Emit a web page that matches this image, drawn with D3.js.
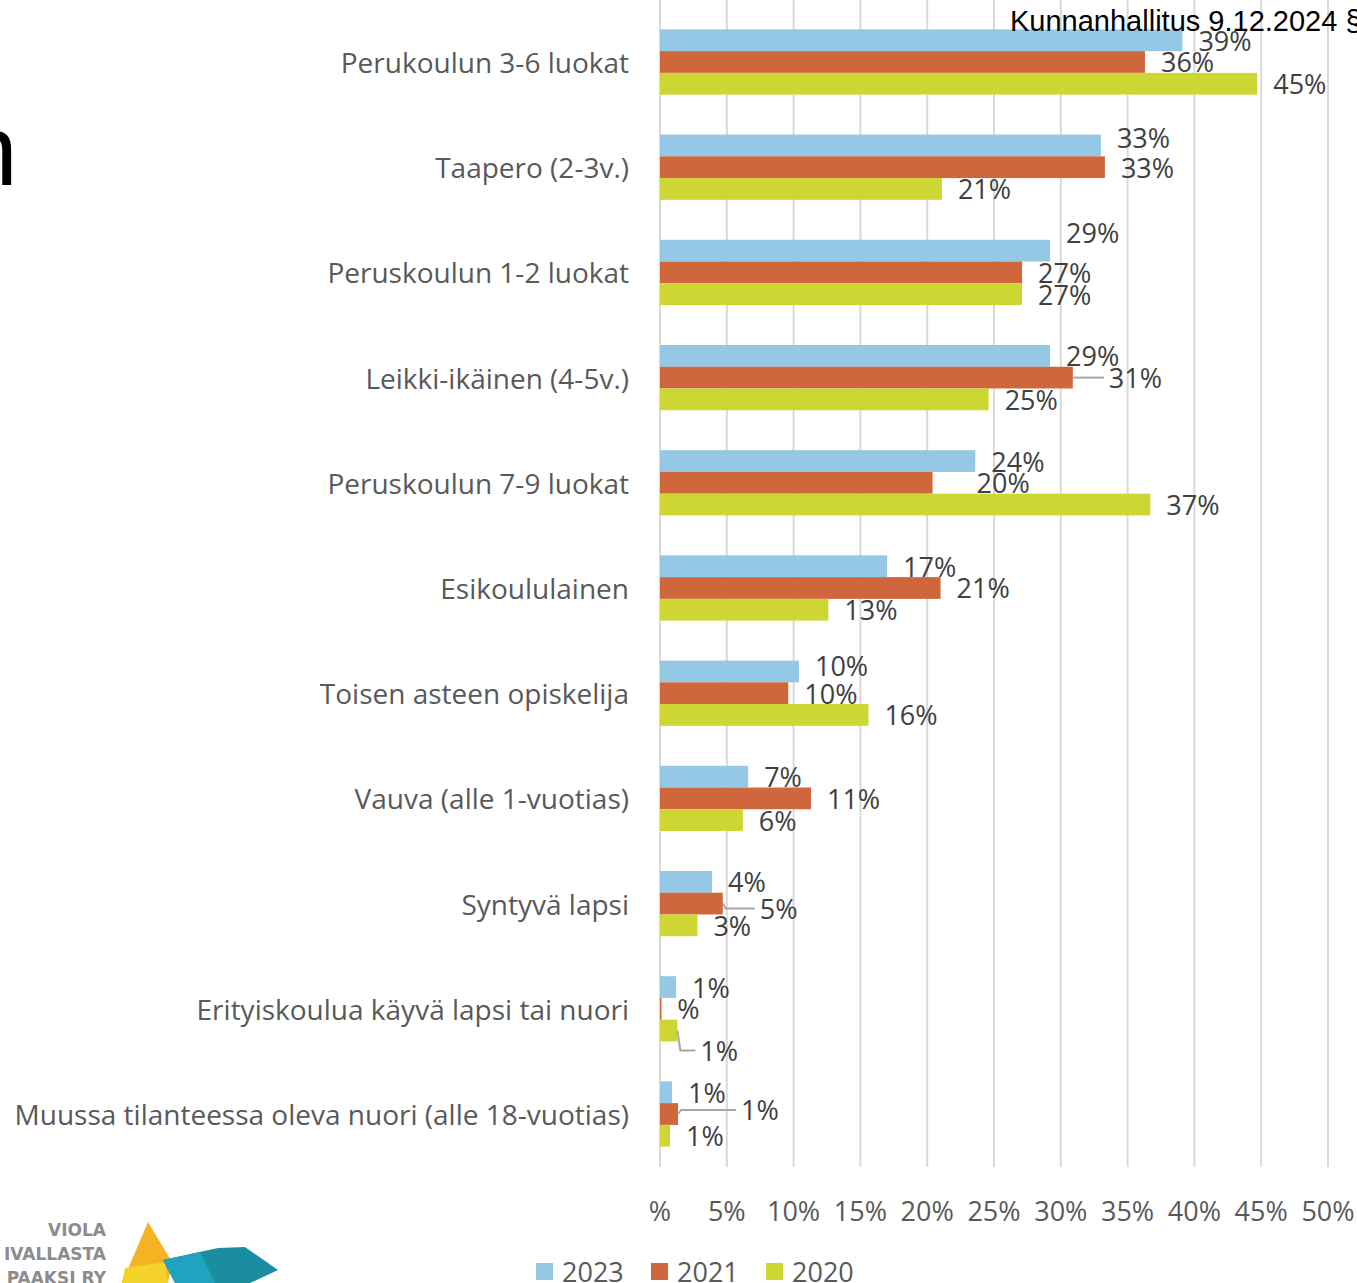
<!DOCTYPE html>
<html>
<head>
<meta charset="utf-8">
<script src="https://cdn.jsdelivr.net/npm/d3@7"></script>
<style>
  body { margin: 0; background: #fff; overflow: hidden; }
  svg { display: block; font-family: "Open Sans", Lato, sans-serif; }
</style>
</head>
<body>
<svg id="chart" width="1357" height="1283"></svg>
<script>
// categories, top to bottom
const categories = [
  "Perukoulun 3-6 luokat",
  "Taapero (2-3v.)",
  "Peruskoulun 1-2 luokat",
  "Leikki-ikäinen (4-5v.)",
  "Peruskoulun 7-9 luokat",
  "Esikoululainen",
  "Toisen asteen opiskelija",
  "Vauva (alle 1-vuotias)",
  "Syntyvä lapsi",
  "Erityiskoulua käyvä lapsi tai nuori",
  "Muussa tilanteessa oleva nuori (alle 18-vuotias)"
];
const seriesNames = ["2023", "2021", "2020"];

// percentages
const values2023 = [39.1, 33.0, 29.2, 29.2, 23.6, 17.0, 10.4, 6.6, 3.9, 1.2, 0.9];
const values2021 = [36.3, 33.3, 27.1, 30.9, 20.4, 21.0, 9.6, 11.3, 4.7, 0.1, 1.35];
const values2020 = [44.7, 21.1, 27.1, 24.6, 36.7, 12.6, 15.6, 6.2, 2.8, 1.3, 0.75];

const xTicks = [0, 5, 10, 15, 20, 25, 30, 35, 40, 45, 50];

const colors = { "2023": "#94c8e4", "2021": "#cf663c", "2020": "#ced633" };

// label nudges (px) where the original moved labels apart, some with leader lines
const labelShift = {
  "1-2023": { dy: -8 },
  "2-2023": { dy: -18 },
  "3-2021": { dx: 20, leader: true },
  "4-2021": { dx: 28 },
  "6-2023": { dy: -6 },
  "8-2021": { dx: 21, dy: 5, leader: true },
  "9-2020": { dx: 7, dy: 20, leader: true },
  "10-2021": { dx: 47, dy: -4, leader: true }
};

const svg = d3.select("#chart");

const x = d3.scaleLinear().domain([0, 50]).range([660, 1328]);
const y = d3.scaleBand().domain(categories).range([9.4, 1166.6])
  .paddingInner(0.38).paddingOuter(0.19);
const ySub = d3.scaleBand().domain(seriesNames).range([0, y.bandwidth()]);

const rows = categories.map((c, i) => ({
  cat: c, idx: i,
  vals: [
    { s: "2023", v: values2023[i] },
    { s: "2021", v: values2021[i] },
    { s: "2020", v: values2020[i] }
  ]
}));

// gridlines
svg.append("g")
  .selectAll("line")
  .data(xTicks)
  .join("line")
  .attr("x1", d => x(d)).attr("x2", d => x(d))
  .attr("y1", 0).attr("y2", 1167)
  .attr("stroke", "#d9d9d9").attr("stroke-width", 2);

// tick labels
svg.append("g")
  .selectAll("text")
  .data(xTicks)
  .join("text")
  .attr("x", d => x(d)).attr("y", 1210)
  .attr("text-anchor", "middle").attr("dominant-baseline", "central")
  .attr("fill", "#595959").style("font-size", "27px")
  .text(d => d === 0 ? "%" : d + "%");

// category labels
svg.append("g")
  .selectAll("text")
  .data(categories)
  .join("text")
  .attr("x", 629).attr("y", d => y(d) + y.bandwidth() / 2)
  .attr("text-anchor", "end").attr("dominant-baseline", "central")
  .attr("fill", "#595959").style("font-size", "28px")
  .text(d => d);

// bars
const groups = svg.append("g").selectAll("g")
  .data(rows)
  .join("g")
  .attr("transform", d => `translate(0,${y(d.cat)})`);

groups.selectAll("rect")
  .data(d => d.vals)
  .join("rect")
  .attr("x", x(0))
  .attr("y", d => ySub(d.s))
  .attr("width", d => Math.max(1.5, x(d.v) - x(0)))
  .attr("height", ySub.bandwidth())
  .attr("fill", d => colors[d.s]);

// data labels
groups.each(function (row) {
  const g = d3.select(this);
  row.vals.forEach(d => {
    const sh = labelShift[row.idx + "-" + d.s] || {};
    const x0 = x(d.v), y0 = ySub(d.s) + ySub.bandwidth() / 2;
    const lx = x0 + 16 + (sh.dx || 0), ly = y0 + (sh.dy || 0);
    if (sh.leader) {
      g.append("path")
        .attr("d", `M${x0},${y0} L${x0 + 3},${ly} L${lx - 5},${ly}`)
        .attr("fill", "none").attr("stroke", "#a6a6a6").attr("stroke-width", 2);
    }
    const r = Math.round(d.v);
    g.append("text")
      .attr("x", lx).attr("y", ly)
      .attr("dominant-baseline", "central")
      .attr("fill", "#404040").style("font-size", "27px")
      .text(r === 0 ? "%" : r + "%");
  });
});

// legend
const legend = svg.append("g").selectAll("g")
  .data(seriesNames)
  .join("g")
  .attr("transform", (d, i) => `translate(${536 + i * 115},1271)`);
legend.append("rect")
  .attr("x", 0).attr("y", -8).attr("width", 17).attr("height", 17)
  .attr("fill", d => colors[d]);
legend.append("text")
  .attr("x", 26).attr("y", 0).attr("dominant-baseline", "central")
  .attr("fill", "#595959").style("font-size", "27px")
  .text(d => d);

// slide fragments around the chart
svg.append("text")
  .attr("x", 1010).attr("y", 31)
  .style("font-family", "'Liberation Sans', Arial, sans-serif")
  .style("font-size", "29px").attr("fill", "#000")
  .text("Kunnanhallitus 9.12.2024 §");
svg.append("text")
  .attr("x", -38).attr("y", 185)
  .style("font-family", "'Liberation Sans', Arial, sans-serif")
  .style("font-size", "100px").attr("fill", "#000")
  .text("n");

// logo
const logoText = ["VIOLA", "IVALLASTA", "PAAKSI RY"];
svg.append("g").selectAll("text")
  .data(logoText)
  .join("text")
  .attr("x", 106).attr("y", (d, i) => 1236 + i * 24)
  .attr("text-anchor", "end")
  .style("font-family", "'DejaVu Sans', sans-serif").style("font-weight", "bold")
  .style("font-size", "17px").attr("fill", "#8c8c8c")
  .text(d => d);
svg.append("path")
  .attr("d", "M148,1222 L172,1262 L168,1283 L122,1283 Z")
  .attr("fill", "#f5b323");
svg.append("path")
  .attr("d", "M125,1268 L165,1262 L168,1283 L122,1283 Z")
  .attr("fill", "#f3d22a");
svg.append("path")
  .attr("d", "M163,1260 L218,1248 L245,1247 L278,1270 L250,1283 L175,1283 Z")
  .attr("fill", "#1a8ea0");
svg.append("path")
  .attr("d", "M163,1260 L200,1252 L215,1283 L175,1283 Z")
  .attr("fill", "#1fa3c0");
</script>
</body>
</html>
